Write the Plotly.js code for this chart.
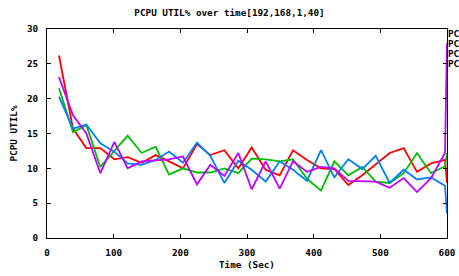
<!DOCTYPE html>
<html>
<head>
<meta charset="utf-8">
<script src="https://cdn.plot.ly/plotly-3.0.1.min.js"></script>
<style>
html,body{margin:0;padding:0;background:#fff;overflow:hidden;}
#chart{width:459px;height:276px;}
</style>
</head>
<body>
<div id="chart"></div>
<script>
// Time (sec) of each sample
const times = [18, 39, 59, 80, 101, 121, 142, 163, 183, 204, 225, 245, 266, 287, 307,
               328, 349, 369, 390, 411, 431, 452, 473, 493, 514, 535, 555, 576, 597, 600];

const seriesNames = ["PCPU UTIL% cpu0", "PCPU UTIL% cpu1", "PCPU UTIL% cpu2", "PCPU UTIL% cpu3"];
// key labels as far as they are visible at the right edge
const keyLabels = ["PC", "PC", "PC", "PC"];

const cpu0 = [26.2, 15.7, 12.9, 12.9, 11.3, 11.6, 10.8, 11.9, 11.0, 10.0, 13.5, 11.9, 12.6, 10.0, 13.0,
              9.8, 9.0, 12.6, 11.2, 10.0, 9.9, 7.6, 9.0, 10.6, 12.2, 12.9, 9.5, 10.7, 11.2, 7.9];
const cpu1 = [21.5, 15.2, 16.2, 10.2, 12.5, 14.7, 12.2, 13.1, 9.1, 10.0, 9.4, 9.4, 10.0, 9.3, 11.4,
              11.3, 11.0, 11.3, 8.5, 6.8, 11.0, 9.0, 10.2, 8.1, 7.9, 9.3, 12.2, 9.3, 10.3, 12.2];
const cpu2 = [20.3, 15.7, 16.3, 13.6, 12.4, 10.7, 10.5, 11.2, 12.4, 10.8, 13.7, 11.8, 7.9, 11.1, 9.8,
              8.1, 11.0, 9.8, 8.2, 12.6, 8.7, 11.3, 9.9, 11.8, 7.9, 9.8, 8.4, 8.7, 7.5, 3.5];
const cpu3 = [23.1, 17.6, 15.0, 9.3, 13.8, 10.0, 11.0, 11.2, 11.3, 11.7, 7.7, 10.5, 8.9, 12.2, 7.0,
              11.0, 7.1, 11.0, 9.5, 10.2, 10.0, 8.2, 8.1, 8.1, 7.2, 8.6, 6.6, 8.6, 12.2, 28.0];

const colors = ["#ff0000", "#00c000", "#0080ff", "#c000ff"];
const allSeries = [cpu0, cpu1, cpu2, cpu3];

const FONT = {family: "DejaVu Sans Mono", size: 9.3, color: "#000"};

const traces = allSeries.map((vals, i) => ({
  type: "scatter",
  mode: "lines",
  x: times,
  y: vals,
  name: seriesNames[i],
  line: {color: colors[i], width: 1.8},
  hoverinfo: "skip"
}));

const keyY = [0.979, 0.932, 0.884, 0.836];
const annotations = keyLabels.map((n, i) => ({
  xref: "paper", yref: "paper",
  x: 1, y: keyY[i],
  xanchor: "left", yanchor: "middle",
  xshift: -1,
  text: "<b>" + n + "</b>",
  showarrow: false,
  font: FONT
}));

const layout = {
  width: 459,
  height: 276,
  margin: {l: 47, r: 12, t: 29, b: 38, pad: 0},
  paper_bgcolor: "#fff",
  plot_bgcolor: "#fff",
  showlegend: false,
  font: FONT,
  title: {
    text: "<b>PCPU UTIL% over time[192,168,1,40]</b>",
    font: FONT,
    x: 0.5, xanchor: "center",
    y: 1 - 13 / 276, yanchor: "middle", yref: "container"
  },
  xaxis: {
    range: [0, 600],
    tickmode: "linear", tick0: 0, dtick: 100,
    ticks: "inside", ticklen: 4, tickwidth: 1, tickcolor: "#000",
    showline: true, linecolor: "#000", linewidth: 1, mirror: "ticks",
    showgrid: false, zeroline: false,
    tickfont: FONT,
    ticklabelstandoff: 6,
    tickprefix: "<b>", ticksuffix: "</b>",
    title: {text: "<b>Time (Sec)</b>", font: FONT, standoff: 4}
  },
  yaxis: {
    range: [0, 30],
    tickmode: "linear", tick0: 0, dtick: 5,
    ticks: "inside", ticklen: 4, tickwidth: 1, tickcolor: "#000",
    showline: true, linecolor: "#000", linewidth: 1, mirror: "ticks",
    showgrid: false, zeroline: false,
    tickfont: FONT,
    ticklabelstandoff: 6,
    tickprefix: "<b>", ticksuffix: "</b>",
    title: {text: "<b>PCPU UTIL%</b>", font: FONT, standoff: 7}
  },
  annotations: annotations
};

Plotly.newPlot("chart", traces, layout, {staticPlot: true, displayModeBar: false});
</script>
</body>
</html>
